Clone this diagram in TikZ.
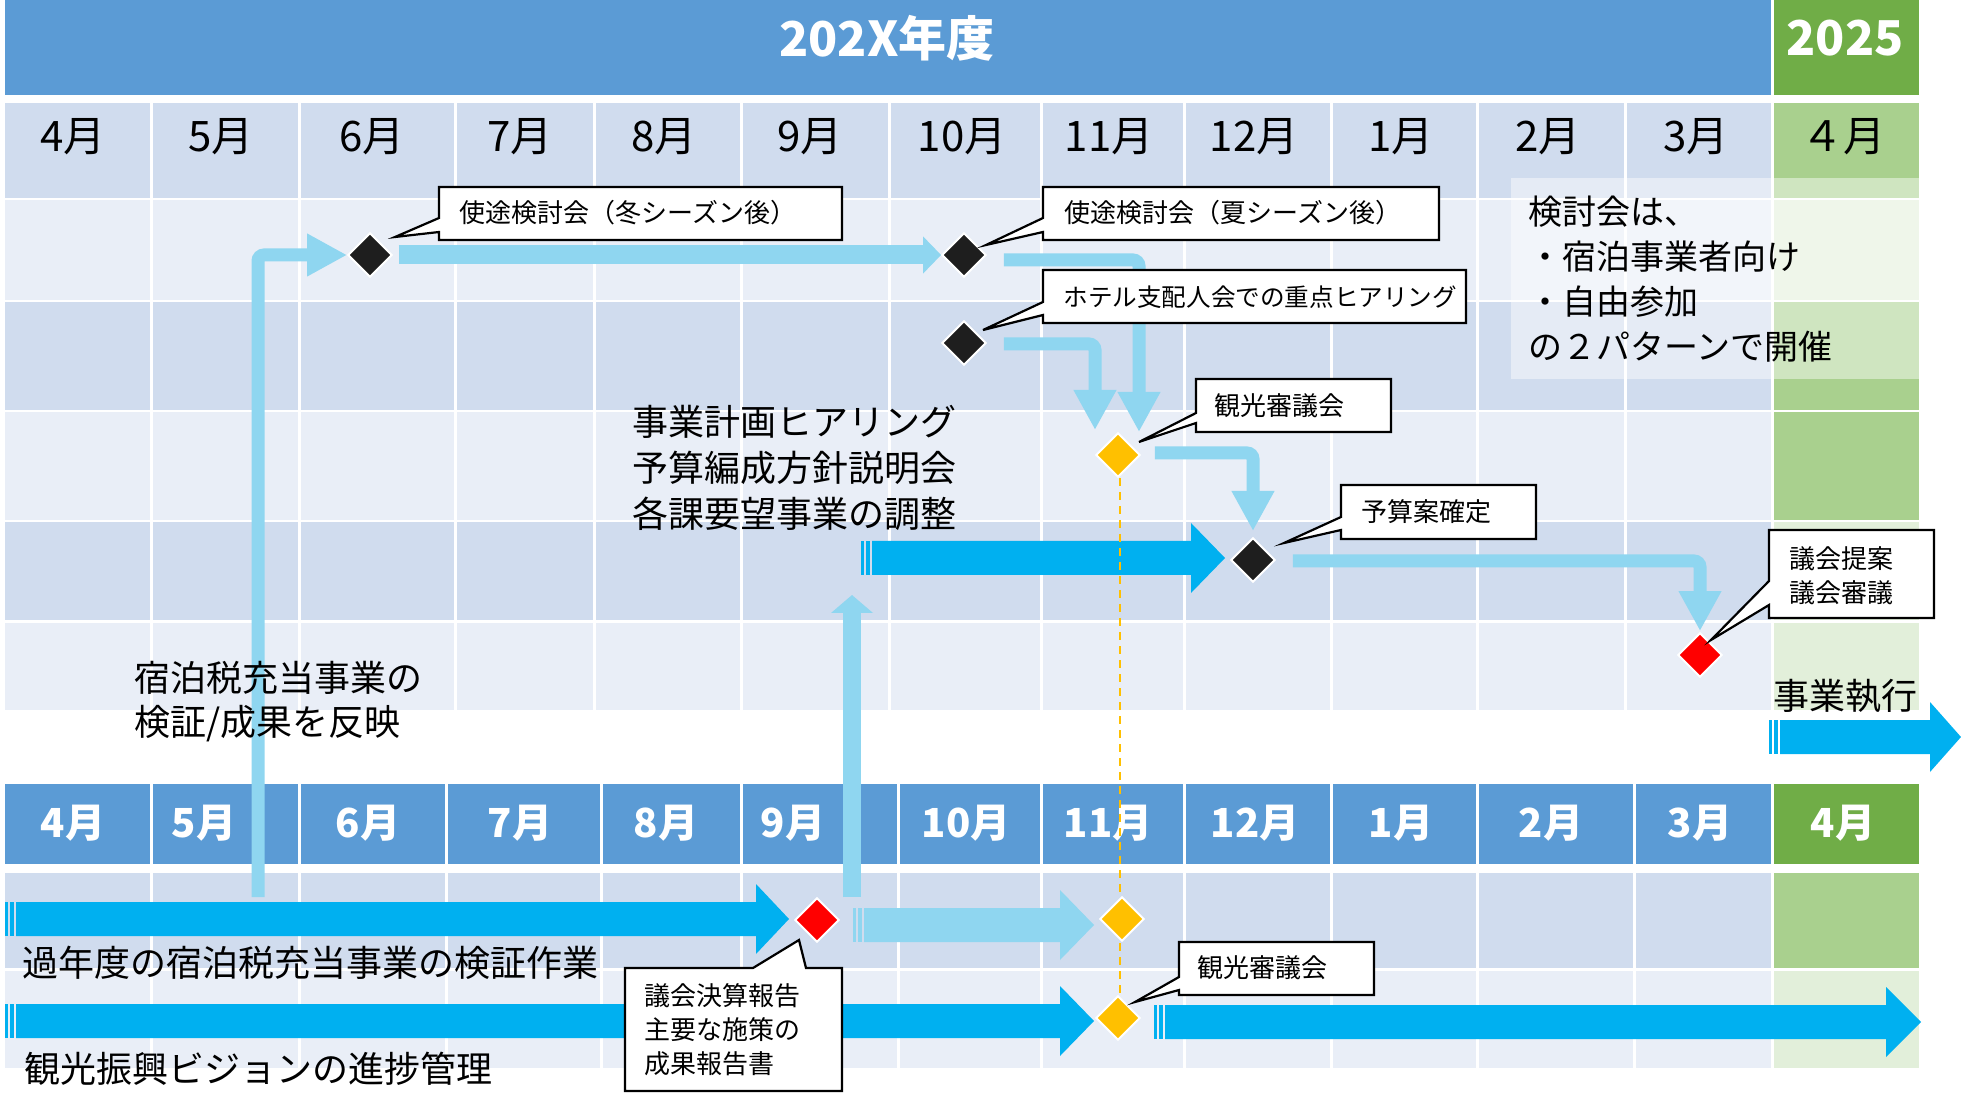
\documentclass[tikz,border=0pt]{standalone}
\usepackage{fontspec}
\setmainfont{Noto Sans CJK JP}
\usetikzlibrary{arrows.meta,shapes.geometric}
\definecolor{hdr}{HTML}{5B9BD5}
\definecolor{grn}{HTML}{70AD47}
\definecolor{bdark}{HTML}{D0DCEE}
\definecolor{blight}{HTML}{E9EEF7}
\definecolor{gmed}{HTML}{A9D08E}
\definecolor{glight}{HTML}{E2EFDA}
\definecolor{lblue}{HTML}{8FD6F0}
\definecolor{dblue}{HTML}{00B0F0}
\definecolor{dblack}{HTML}{1E1E1E}
\definecolor{dyel}{HTML}{FFC000}
\definecolor{dred}{HTML}{FF0000}
\newcommand\myfs[2]{\fontsize{#1}{#2}\selectfont}
% x start, x tip, y centre, colour, head length
\newcommand\stripedArrow[5]{%
  \fill[#4] (#1,#3-17) rectangle (#1+3,#3+17);
  \fill[#4] (#1+5,#3-17) rectangle (#1+9,#3+17);
  \fill[#4] (#1+11,#3-17) -- (#2-#5,#3-17) -- (#2-#5,#3-35) -- (#2,#3)
     -- (#2-#5,#3+35) -- (#2-#5,#3+17) -- (#1+11,#3+17) -- cycle;
}
\tikzset{
  mon/.style={font=\myfs{21}{24}, inner sep=0},
  monw/.style={font=\bfseries\myfs{20}{24}, text=white, inner sep=0},
  ttl/.style={font=\bfseries\myfs{24}{28}, text=white, inner sep=0},
  big/.style={font=\myfs{18}{23}, inner sep=0},
  notef/.style={font=\myfs{17}{22.4}, inner sep=0},
  ctext/.style={font=\myfs{13}{17}, inner sep=0},
  cbox/.style={fill=white, draw=black, line width=1.1pt, line join=miter},
  dia/.style={diamond, minimum width=22pt, minimum height=22pt, inner sep=0,
              draw=white, line width=0.9pt},
  lb/.style={draw=lblue, line width=6.5pt, rounded corners=3pt,
             -{Triangle[width=20pt,length=20pt]}},
  lbs/.style={draw=lblue, line width=9.5pt, -{Triangle[width=18pt,length=9pt]}},
  lbv/.style={draw=lblue, line width=9pt, -{Triangle[width=20.5pt,length=9pt]}},
  milestone/.style={draw=dyel, line width=1pt, dash pattern=on 4pt off 3pt},
}
\begin{document}
\begin{tikzpicture}[x=0.5pt,y=-0.5pt]
\useasboundingbox (0,0) rectangle (1961,1096);
\fill[white] (0,0) rectangle (1961,1096);

% ---------- header ----------
\fill[hdr] (5,0) rectangle (1772,95);
\fill[grn] (1772,0) rectangle (1919,95);
\draw[white, line width=1.5pt] (1772,0) -- (1772,95);
\node[ttl] (title) at (887,38) {202X年度};
\node[ttl] (y2025) at (1845,38) {2025};

% ---------- top grid ----------
\foreach \ya/\yb/\cb/\cg in {103/198/bdark/gmed, 200/300/blight/glight,
   302/410/bdark/gmed, 412/520/blight/gmed, 522/620/bdark/glight, 623/710/blight/glight} {
  \fill[\cb] (5,\ya) rectangle (1772,\yb);
  \fill[\cg] (1772,\ya) rectangle (1919,\yb);
}
\foreach \x in {151,299,455,594,741,889,1041,1184,1331,1477,1625,1772}
  \draw[white, line width=1.5pt] (\x,103) -- (\x,710);

% ---------- bottom grid ----------
\fill[hdr] (5,784) rectangle (1772,864);
\fill[grn] (1772,784) rectangle (1919,864);
\fill[bdark] (5,873) rectangle (1772,968);
\fill[gmed] (1772,873) rectangle (1919,968);
\fill[blight] (5,971) rectangle (1772,1068);
\fill[glight] (1772,971) rectangle (1919,1068);
\foreach \x in {151,299,446,601,741,898,1041,1184,1331,1477,1634,1772}
  \draw[white, line width=1.5pt] (\x,784) -- (\x,1068);

% ---------- note box ----------
\fill[white, opacity=0.45] (1511,178) rectangle (1919,379);

% ---------- month labels ----------
\foreach \x/\m [count=\i] in {73/4,221/5,372/6,520/7,664/8,810/9,962/10,1109/11,1254/12,1401/1,1548/2,1696/3}
  \node[mon] (tm\i) at (\x,137) {{\m}月};
\node[mon] (tm13) at (1843,137) {４月};
\foreach \x/\m [count=\i] in {73/4,204/5,368/6,520/7,666/8,793/9,966/10,1108/11,1255/12,1401/1,1551/2,1700/3}
  \node[monw] (bm\i) at (\x,823) {{\m}月};
\node[monw] (bm13) at (1843,823) {4月};

% ---------- block arrows ----------
\stripedArrow{5}{789}{919}{dblue}{33}
\stripedArrow{853}{1094}{925}{lblue}{34}
\stripedArrow{5}{1094}{1021}{dblue}{34}
\stripedArrow{1154}{1921}{1022}{dblue}{35}
\stripedArrow{861}{1225}{558}{dblue}{34}
\stripedArrow{1769}{1961}{737}{dblue}{31}

% ---------- milestones ----------
\node[dia, fill=dblack] (d1) at (370,255) {};
\node[dia, fill=dblack] (d2) at (964,255) {};
\node[dia, fill=dblack] (d3) at (964,343) {};
\node[dia, fill=dyel]   (d4) at (1118,455) {};
\node[dia, fill=dblack] (d5) at (1253,560) {};
\node[dia, fill=dred]   (d6) at (1700,655) {};
\node[dia, fill=dred]   (d7) at (817,920) {};
\node[dia, fill=dyel]   (d8) at (1122,919) {};
\node[dia, fill=dyel]   (d9) at (1118,1018) {};

% dashed vertical line
\draw[milestone] (1120,478) -- (1120,895);
\draw[milestone] (1120,943) -- (1120,995);

% ---------- light blue connectors ----------
\coordinate (a1s) at (258,897);
\coordinate (a3e) at (1139,432);
\coordinate (a4e) at (1095,430);
\coordinate (a5e) at (1253,531);
\coordinate (a7s) at (852,897);
\coordinate (a7e) at (852,595);
\draw[lb] (a1s) |- (d1.west);
\draw[lbs] ([xshift=3pt]d1.east) -- (d2.west);
\draw[lb] ([xshift=8.5pt,yshift=-2.5pt]d2.east) -| (a3e);
\draw[lb] ([xshift=8.5pt,yshift=-0.5pt]d3.east) -| (a4e);
\draw[lb] ([xshift=7pt,yshift=1pt]d4.east) -| (a5e);
\draw[lb] ([xshift=8.5pt,yshift=-0.5pt]d5.east) -| ([yshift=0.5pt]d6.north);
\draw[lbv] (a7s) -- (a7e);

% redraw diamonds on top
\node[dia, fill=dblack] at (d1) {};
\node[dia, fill=dblack] at (d2) {};
\node[dia, fill=dblack] at (d3) {};
\node[dia, fill=dyel]   at (d4) {};
\node[dia, fill=dblack] at (d5) {};
\node[dia, fill=dred]   at (d6) {};
\node[dia, fill=dred]   at (d7) {};
\node[dia, fill=dyel]   at (d8) {};
\node[dia, fill=dyel]   at (d9) {};

% ---------- callouts ----------
\draw[cbox] (439,187) -- (842,187) -- (842,240) -- (439,240) -- (439,232) -- (395,237) -- (439,218) -- cycle;
\node[ctext, anchor=west] (t1) at (459,213) {使途検討会（冬シーズン後）};
\draw[cbox] (1043,187) -- (1439,187) -- (1439,240) -- (1043,240) -- (1043,232) -- (986,245) -- (1043,218) -- cycle;
\node[ctext, anchor=west] (t2) at (1064,213) {使途検討会（夏シーズン後）};
\draw[cbox] (1043,270) -- (1466,270) -- (1466,323) -- (1043,323) -- (1043,315) -- (983,330) -- (1043,302) -- cycle;
\node[ctext, anchor=west, font=\myfs{12.3}{16}] (t3) at (1063,297) {ホテル支配人会での重点ヒアリング};
\draw[cbox] (1196,379) -- (1391,379) -- (1391,432) -- (1196,432) -- (1196,423) -- (1139,442) -- (1196,413) -- cycle;
\node[ctext, anchor=west] (t4) at (1214,406) {観光審議会};
\draw[cbox] (1341,485) -- (1536,485) -- (1536,539) -- (1341,539) -- (1341,530) -- (1284,543) -- (1341,517) -- cycle;
\node[ctext, anchor=west] (t5) at (1361,512) {予算案確定};
\draw[cbox] (1769,530) -- (1934,530) -- (1934,618) -- (1769,618) -- (1769,605) -- (1711,640) -- (1769,581) -- cycle;
\node[ctext, anchor=west, align=left] (t6) at (1789,576) {議会提案\\議会審議};
\draw[cbox] (625,968) -- (753,968) -- (799,940) -- (806,968) -- (842,968) -- (842,1091) -- (625,1091) -- cycle;
\node[ctext, anchor=west, align=left] (t7) at (644,1030) {議会決算報告\\主要な施策の\\成果報告書};
\draw[cbox] (1179,942) -- (1374,942) -- (1374,995) -- (1179,995) -- (1179,990) -- (1135,1002) -- (1179,977) -- cycle;
\node[ctext, anchor=west] (t8) at (1197,968) {観光審議会};

% ---------- labels ----------
\node[notef, align=left, anchor=west] (note) at (1528,279) {検討会は、\\・宿泊事業者向け\\・自由参加\\の２パターンで開催};
\node[big, align=right, anchor=east] (lab1) at (957,468) {事業計画ヒアリング\\予算編成方針説明会\\各課要望事業の調整};
\node[big, align=left, anchor=west, font=\myfs{18}{22}] (lab2) at (134,702) {宿泊税充当事業の\\検証/成果を反映};
\node[big, anchor=west] (lab3) at (22,963) {過年度の宿泊税充当事業の検証作業};
\node[big, anchor=west] (lab4) at (24,1069) {観光振興ビジョンの進捗管理};
\node[big] (lab5) at (1845,696) {事業執行};
\end{tikzpicture}
\end{document}
